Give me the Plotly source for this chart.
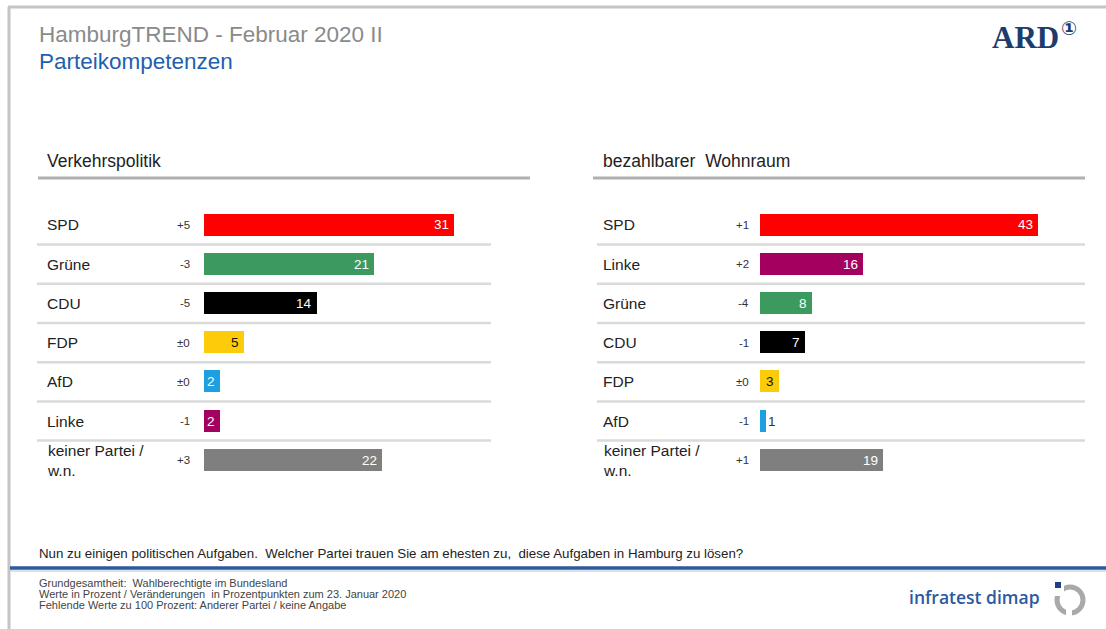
import plotly.graph_objects as go

W, H = 1106, 629

# ---------------- data ----------------
left_title = "Verkehrspolitik"
left_parties = ["SPD", "Grüne", "CDU", "FDP", "AfD", "Linke", "keiner Partei /<br>w.n."]
left_values = [31, 21, 14, 5, 2, 2, 22]
left_changes = ["+5", "-3", "-5", "±0", "±0", "-1", "+3"]

right_title = "bezahlbarer  Wohnraum"
right_parties = ["SPD", "Linke", "Grüne", "CDU", "FDP", "AfD", "keiner Partei /<br>w.n."]
right_values = [43, 16, 8, 7, 3, 1, 19]
right_changes = ["+1", "+2", "-4", "-1", "±0", "-1", "+1"]

party_colors = {
    "SPD": "#fe0000",
    "Grüne": "#3c9a5f",
    "CDU": "#000000",
    "FDP": "#fccb0a",
    "AfD": "#1e9fe0",
    "Linke": "#a3005f",
    "keiner Partei /<br>w.n.": "#7f7f7f",
}
dark_text_parties = ["FDP"]

# ---------------- helpers ----------------
def px(x):
    return x / W


def py(y):
    return 1 - y / H


FONT = "Liberation Sans, Arial, sans-serif"

row_h = 39.2
top_row_center = 225
n = len(left_parties)
y_top = top_row_center - row_h / 2
y_bot = y_top + row_h * n

fig = go.Figure()

panels = [
    dict(xa="x", ya="y", parties=left_parties, values=left_values, changes=left_changes,
         bar_start=204, scale=8.08, xmax=40, label_x=45, change_x=192,
         sep=(37, 491), head=(38, 530), title=left_title),
    dict(xa="x2", ya="y2", parties=right_parties, values=right_values, changes=right_changes,
         bar_start=760, scale=6.46, xmax=50, label_x=601, change_x=751,
         sep=(597, 1085), head=(593, 1085), title=right_title),
]

annotations = []
shapes = []

for p in panels:
    ys = list(range(len(p["parties"])))
    fig.add_trace(go.Bar(
        x=p["values"], y=ys, orientation="h",
        marker=dict(color=[party_colors[k] for k in p["parties"]], line=dict(width=0)),
        width=0.56, xaxis=p["xa"], yaxis=p["ya"], showlegend=False,
        hovertext=[k.replace("<br>", " ") for k in p["parties"]],
        hoverinfo="text+x",
    ))
    # row labels, change labels, value labels
    for i, (party, val, chg) in enumerate(zip(p["parties"], p["values"], p["changes"])):
        annotations.append(dict(
            x=px(p["label_x"]), xref="paper", y=i, yref=p["ya"],
            text=party, showarrow=False, xanchor="left", yanchor="middle", align="left",
            font=dict(family=FONT, size=15.5, color="#222222"),
        ))
        annotations.append(dict(
            x=px(p["change_x"]), xref="paper", y=i, yref=p["ya"],
            text=chg, showarrow=False, xanchor="right", yanchor="middle",
            font=dict(family=FONT, size=11.5, color="#333333"),
        ))
        bar_px = val * p["scale"]
        if bar_px >= 10:
            col = "#111111" if party in dark_text_parties else "#ffffff"
            annotations.append(dict(
                x=val, xref=p["xa"], y=i, yref=p["ya"], text=str(val), showarrow=False,
                xanchor="right", yanchor="middle", xshift=-3,
                font=dict(family=FONT, size=13.5, color=col),
            ))
        else:
            annotations.append(dict(
                x=val, xref=p["xa"], y=i, yref=p["ya"], text=str(val), showarrow=False,
                xanchor="left", yanchor="middle", xshift=0,
                font=dict(family=FONT, size=13.5, color="#333333"),
            ))
    # separators between rows
    for i in range(len(p["parties"]) - 1):
        shapes.append(dict(type="line", xref="paper", yref=p["ya"],
                           x0=px(p["sep"][0]), x1=px(p["sep"][1]), y0=i + 0.5, y1=i + 0.5,
                           line=dict(color="#dadada", width=2.5)))
    # header line + panel title
    shapes.append(dict(type="line", xref="paper", yref="paper",
                       x0=px(p["head"][0]), x1=px(p["head"][1]), y0=py(178), y1=py(178),
                       line=dict(color="#b0b0b0", width=3)))
    annotations.append(dict(
        x=px(p["label_x"]), xref="paper", y=py(161), yref="paper", text=p["title"],
        showarrow=False, xanchor="left", yanchor="middle",
        font=dict(family=FONT, size=17.5, color="#222222"),
    ))

# frame lines
shapes.append(dict(type="line", xref="paper", yref="paper", x0=px(8), x1=1, y0=py(7), y1=py(7),
                   line=dict(color="#c4c4c4", width=3)))
shapes.append(dict(type="line", xref="paper", yref="paper", x0=px(9), x1=px(9), y0=py(7), y1=0,
                   line=dict(color="#c4c4c4", width=3)))
# footer blue line
shapes.append(dict(type="line", xref="paper", yref="paper", x0=px(10), x1=1, y0=py(568), y1=py(568),
                   line=dict(color="#2d5a9a", width=3.5)))
shapes.append(dict(type="line", xref="paper", yref="paper", x0=px(10), x1=1, y0=py(571), y1=py(571),
                   line=dict(color="#c9d7ea", width=1.5)))

# infratest dimap logo (ring + square)
shapes.append(dict(type="circle", xref="paper", yref="paper",
                   x0=px(1057), x1=px(1083), y0=py(613), y1=py(587),
                   line=dict(color="#a9a9a9", width=5), fillcolor="rgba(0,0,0,0)"))
shapes.append(dict(type="rect", xref="paper", yref="paper",
                   x0=px(1052), x1=px(1064), y0=py(596), y1=py(582),
                   line=dict(width=0), fillcolor="#ffffff"))
shapes.append(dict(type="rect", xref="paper", yref="paper",
                   x0=px(1066), x1=px(1072), y0=py(618), y1=py(609),
                   line=dict(width=0), fillcolor="#ffffff"))
shapes.append(dict(type="rect", xref="paper", yref="paper",
                   x0=px(1055), x1=px(1061), y0=py(588), y1=py(582),
                   line=dict(width=0), fillcolor="#1f3f8a"))

# header texts
annotations += [
    dict(x=px(37), xref="paper", y=py(34), yref="paper", text="HamburgTREND - Februar 2020 II",
         showarrow=False, xanchor="left", yanchor="middle",
         font=dict(family=FONT, size=22.5, color="#8a8a8a")),
    dict(x=px(37), xref="paper", y=py(62), yref="paper", text="Parteikompetenzen",
         showarrow=False, xanchor="left", yanchor="middle",
         font=dict(family=FONT, size=22.5, color="#1f5fae")),
    dict(x=px(1061), xref="paper", y=py(37), yref="paper", text="<b>ARD</b>",
         showarrow=False, xanchor="right", yanchor="middle",
         font=dict(family="Liberation Serif, DejaVu Serif, serif", size=31, color="#1d3c6e")),
    dict(x=px(1059), xref="paper", y=py(28), yref="paper", text="<b>①</b>",
         showarrow=False, xanchor="left", yanchor="middle",
         font=dict(family="DejaVu Sans, Noto Sans CJK SC, sans-serif", size=19, color="#1d3c6e")),
    dict(x=px(37), xref="paper", y=py(553), yref="paper",
         text="Nun zu einigen politischen Aufgaben.  Welcher Partei trauen Sie am ehesten zu,  diese Aufgaben in Hamburg zu lösen?",
         showarrow=False, xanchor="left", yanchor="middle",
         font=dict(family=FONT, size=13.3, color="#222222")),
    dict(x=px(37), xref="paper", y=py(583), yref="paper",
         text="Grundgesamtheit:  Wahlberechtigte im Bundesland",
         showarrow=False, xanchor="left", yanchor="middle",
         font=dict(family=FONT, size=11, color="#444444")),
    dict(x=px(37), xref="paper", y=py(594), yref="paper",
         text="Werte in Prozent / Veränderungen  in Prozentpunkten zum 23. Januar 2020",
         showarrow=False, xanchor="left", yanchor="middle",
         font=dict(family=FONT, size=11, color="#444444")),
    dict(x=px(37), xref="paper", y=py(605), yref="paper",
         text="Fehlende Werte zu 100 Prozent: Anderer Partei / keine Angabe",
         showarrow=False, xanchor="left", yanchor="middle",
         font=dict(family=FONT, size=11, color="#444444")),
    dict(x=px(1042), xref="paper", y=py(597), yref="paper", text="infratest dimap",
         showarrow=False, xanchor="right", yanchor="middle",
         font=dict(family="Open Sans, Liberation Sans, sans-serif", size=17.5, color="#2a5aa0",
                   weight=600)),
]

axis_common = dict(showgrid=False, zeroline=False, showticklabels=False, ticks="",
                   showline=False, fixedrange=True)
lp, rp = panels
fig.update_layout(
    width=W, height=H,
    margin=dict(l=0, r=0, t=0, b=0),
    paper_bgcolor="#ffffff", plot_bgcolor="rgba(0,0,0,0)",
    xaxis=dict(domain=[px(lp["bar_start"]), px(lp["bar_start"] + lp["scale"] * lp["xmax"])],
               range=[0, lp["xmax"]], anchor="y", **axis_common),
    yaxis=dict(domain=[py(y_bot), py(y_top)], range=[n - 0.5, -0.5], anchor="x", **axis_common),
    xaxis2=dict(domain=[px(rp["bar_start"]), px(rp["bar_start"] + rp["scale"] * rp["xmax"])],
                range=[0, rp["xmax"]], anchor="y2", **axis_common),
    yaxis2=dict(domain=[py(y_bot), py(y_top)], range=[n - 0.5, -0.5], anchor="x2", **axis_common),
    annotations=annotations,
    shapes=shapes,
    bargap=0,
)

fig.write_html(
    "out.html",
    config={"displayModeBar": False},
    post_script="document.body.style.margin='0px';document.body.style.overflow='hidden';",
)
